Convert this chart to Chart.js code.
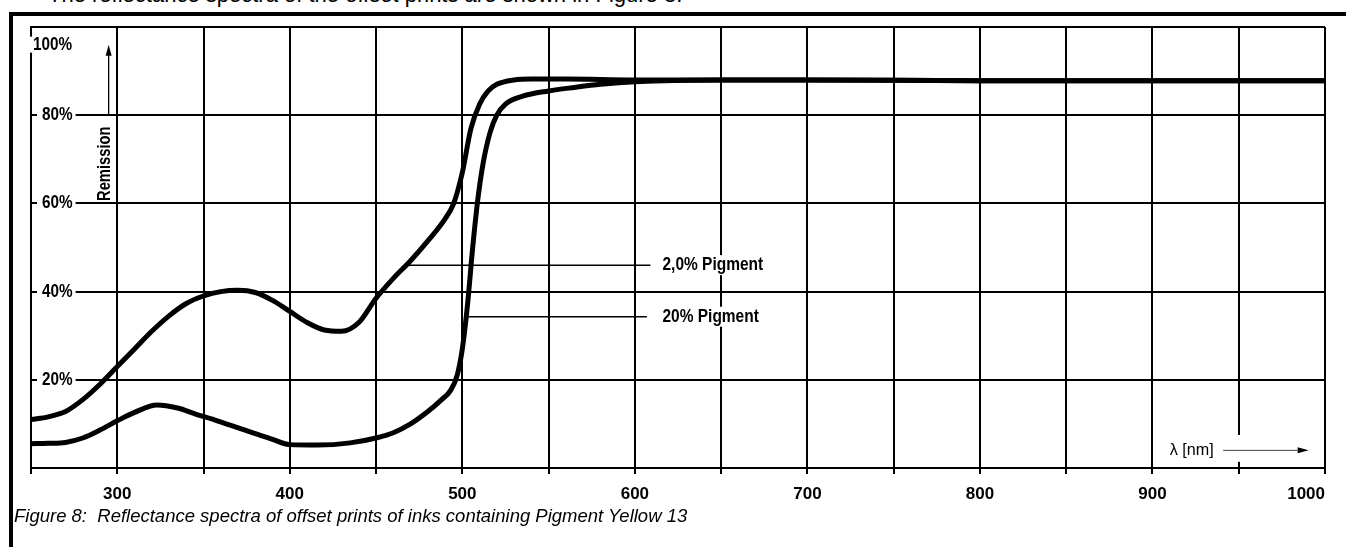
<!DOCTYPE html>
<html>
<head>
<meta charset="utf-8">
<script src="https://cdn.jsdelivr.net/npm/chart.js@4.4.1/dist/chart.umd.min.js"></script>
<style>
  html, body { margin: 0; padding: 0; background: #fff; }
  body { width: 1346px; height: 547px; position: relative; overflow: hidden; }
  #intro { position: absolute; left: 48px; top: -16px; font: 22px/22px 'Liberation Sans', Arial, sans-serif; color: #000; white-space: nowrap; }
  #frame { position: absolute; left: 9px; top: 12px; width: 1337px; height: 535px; box-sizing: border-box; border-top: 4px solid #000; border-left: 4px solid #000; background: #fff; }
  #wrap { position: absolute; left: 0; top: 0; width: 1346px; height: 547px; }
  #caption { position: absolute; left: 14px; top: 507px; font: italic 18.5px/18.5px 'Liberation Sans', Arial, sans-serif; color: #000; white-space: pre; }
</style>
</head>
<body>
<div id="intro">The reflectance spectra of the offset prints are shown in Figure 8.</div>
<div id="frame"></div>
<div id="wrap"><canvas id="spectraChart"></canvas></div>
<div id="caption">Figure 8:  Reflectance spectra of offset prints of inks containing Pigment Yellow 13</div>

<script>
// wavelength (nm) / remission (%)
const nm20 = [250, 260, 270, 280, 290, 300, 310, 320, 330, 340, 350, 360, 370, 380, 390, 400, 410, 420, 430, 440,
              450, 460, 470, 480, 490, 495, 500, 505, 510, 515, 520, 530, 540, 560, 600, 700, 800, 900, 1000];
const rem20 = [11, 11.6, 12.8, 15.5, 19, 23, 27, 31, 34.5, 37.3, 39, 40, 40.3, 39.8, 38, 35.5, 33, 31.3, 31, 33,
               38.5, 43, 47, 51.5, 56.5, 60, 67, 77, 82.5, 85.5, 87, 88, 88.2, 88.2, 88, 88, 87.8, 87.8, 87.8];

const nm200 = [250, 260, 270, 280, 290, 300, 310, 323, 335, 345, 358, 377, 390, 400, 416, 435, 450, 460, 470, 480,
               488, 493, 497, 500, 503, 506, 509, 512, 516, 520, 525, 535, 550, 565, 580, 600, 650, 700, 800, 900, 1000];
const rem200 = [5.5, 5.6, 5.8, 6.8, 8.6, 10.7, 12.6, 14.3, 13.6, 12.3, 10.7, 8.2, 6.5, 5.3, 5.2, 5.7, 6.8, 8, 10, 12.8,
                15.5, 17.5, 21, 27, 37, 50, 61, 69, 76, 80, 82.5, 84.3, 85.5, 86.3, 87, 87.6, 88, 88, 87.8, 87.8, 87.8];

const xTicks = [300, 400, 500, 600, 700, 800, 900, 1000];
const yLabels = ['20%', '40%', '60%', '80%', '100%'];
const yLabelAt = [20, 40, 60, 80, 96];

const SANS = "'Liberation Sans', Arial, sans-serif";

function toPoints(xs, ys) {
    return xs.map((v, i) => ({ x: v, y: ys[i] }));
}

// no condensed face installed, so squeeze the text horizontally
function narrowText(ctx, text, x, y, sx, align) {
    ctx.save();
    ctx.translate(x, y);
    ctx.scale(sx, 1);
    ctx.textAlign = align || 'left';
    ctx.fillText(text, 0, 0);
    ctx.restore();
}

// labels, leader lines and arrows drawn on top of the grid
const annotate = {
    id: 'annotate',
    beforeDatasetsDraw(chart) {
        const { ctx, scales: { x, y } } = chart;
        ctx.save();
        ctx.fillStyle = '#000';
        ctx.strokeStyle = '#000';
        ctx.textBaseline = 'middle';

        // y labels, sitting inside the plot
        ctx.font = 'bold 18px ' + SANS;
        yLabels.forEach((t, i) => {
            const py = y.getPixelForValue(yLabelAt[i]);
            const lx = t === '100%' ? x.left + 2 : x.left + 11;
            const w = ctx.measureText(t).width * 0.85;
            ctx.fillStyle = '#fff';
            ctx.fillRect(lx - 5, py - 8, w + 8, 16);
            ctx.fillStyle = '#000';
            narrowText(ctx, t, lx, py, 0.85);
        });

        // Remission axis title with arrow
        const ax = x.getPixelForValue(295);
        ctx.lineWidth = 1.3;
        ctx.beginPath();
        ctx.moveTo(ax, y.getPixelForValue(80));
        ctx.lineTo(ax, y.getPixelForValue(94));
        ctx.stroke();
        const tip = y.getPixelForValue(96);
        ctx.beginPath();
        ctx.moveTo(ax, tip);
        ctx.lineTo(ax - 3, tip + 11);
        ctx.lineTo(ax + 3, tip + 11);
        ctx.closePath();
        ctx.fill();
        ctx.save();
        ctx.translate(x.getPixelForValue(293), y.getPixelForValue(69));
        ctx.rotate(-Math.PI / 2);
        narrowText(ctx, 'Remission', 0, 0, 0.82, 'center');
        ctx.restore();

        // series labels with leaders
        const series = [
            { text: '2,0% Pigment', from: 468, to: 609, at: 46 },
            { text: '20% Pigment', from: 503, to: 607, at: 34.3 }
        ];
        series.forEach(s => {
            const py = y.getPixelForValue(s.at);
            ctx.lineWidth = 1.5;
            ctx.beginPath();
            ctx.moveTo(x.getPixelForValue(s.from), py);
            ctx.lineTo(x.getPixelForValue(s.to), py);
            ctx.stroke();
            const tx = x.getPixelForValue(616);
            const w = ctx.measureText(s.text).width * 0.86;
            ctx.fillStyle = '#fff';
            ctx.fillRect(tx - 3, py - 10, w + 6, 20);
            ctx.fillStyle = '#000';
            narrowText(ctx, s.text, tx, py, 0.86);
        });

        // wavelength label in the lower right corner
        const bx0 = x.getPixelForValue(907), bx1 = x.getPixelForValue(991);
        const by0 = y.getPixelForValue(7.5), by1 = y.getPixelForValue(1.4);
        ctx.fillStyle = '#fff';
        ctx.fillRect(bx0, by0, bx1 - bx0, by1 - by0);
        ctx.fillStyle = '#000';
        const ly = y.getPixelForValue(4);
        ctx.font = '17px ' + SANS;
        narrowText(ctx, '\u03bb [nm]', x.getPixelForValue(910), ly, 0.95);
        ctx.strokeStyle = '#444';
        ctx.lineWidth = 1;
        ctx.beginPath();
        ctx.moveTo(x.getPixelForValue(941), ly);
        ctx.lineTo(x.getPixelForValue(984), ly);
        ctx.stroke();
        const ex = x.getPixelForValue(990.5);
        ctx.beginPath();
        ctx.moveTo(ex, ly);
        ctx.lineTo(ex - 11, ly - 3);
        ctx.lineTo(ex - 11, ly + 3);
        ctx.closePath();
        ctx.fill();
        ctx.restore();
    }
};

const ctx = document.getElementById('spectraChart').getContext('2d');
new Chart(ctx, {
    type: 'line',
    data: {
        datasets: [
            {
                label: '2,0% Pigment',
                data: toPoints(nm20, rem20),
                borderColor: '#000',
                borderWidth: 5,
                pointRadius: 0,
                cubicInterpolationMode: 'monotone',
                fill: false
            },
            {
                label: '20% Pigment',
                data: toPoints(nm200, rem200),
                borderColor: '#000',
                borderWidth: 5,
                pointRadius: 0,
                cubicInterpolationMode: 'monotone',
                fill: false
            }
        ]
    },
    options: {
        responsive: true,
        maintainAspectRatio: false,
        animation: false,
        layout: { padding: { left: 0, top: 27, right: 21, bottom: 0 } },
        plugins: { legend: { display: false }, tooltip: { enabled: false } },
        scales: {
            x: {
                type: 'linear',
                min: 250,
                max: 1000,
                afterFit: s => { s.height = 79; s.paddingLeft = 0; s.paddingRight = 0; },
                ticks: {
                    stepSize: 50,
                    autoSkip: false,
                    maxRotation: 0,
                    padding: 10,
                    align: 'inner',
                    color: '#000',
                    font: { family: SANS, size: 17, weight: 'bold' },
                    callback: v => xTicks.includes(v) ? String(v) : ''
                },
                grid: { color: '#000', lineWidth: 2, tickLength: 6, drawTicks: true },
                border: { color: '#000', width: 2 }
            },
            y: {
                min: 0,
                max: 100,
                afterFit: s => { s.width = 31; },
                ticks: { stepSize: 20, display: false },
                grid: { color: '#000', lineWidth: 2, drawTicks: false },
                border: { color: '#000', width: 2 }
            }
        }
    },
    plugins: [annotate]
});
</script>
</body>
</html>
